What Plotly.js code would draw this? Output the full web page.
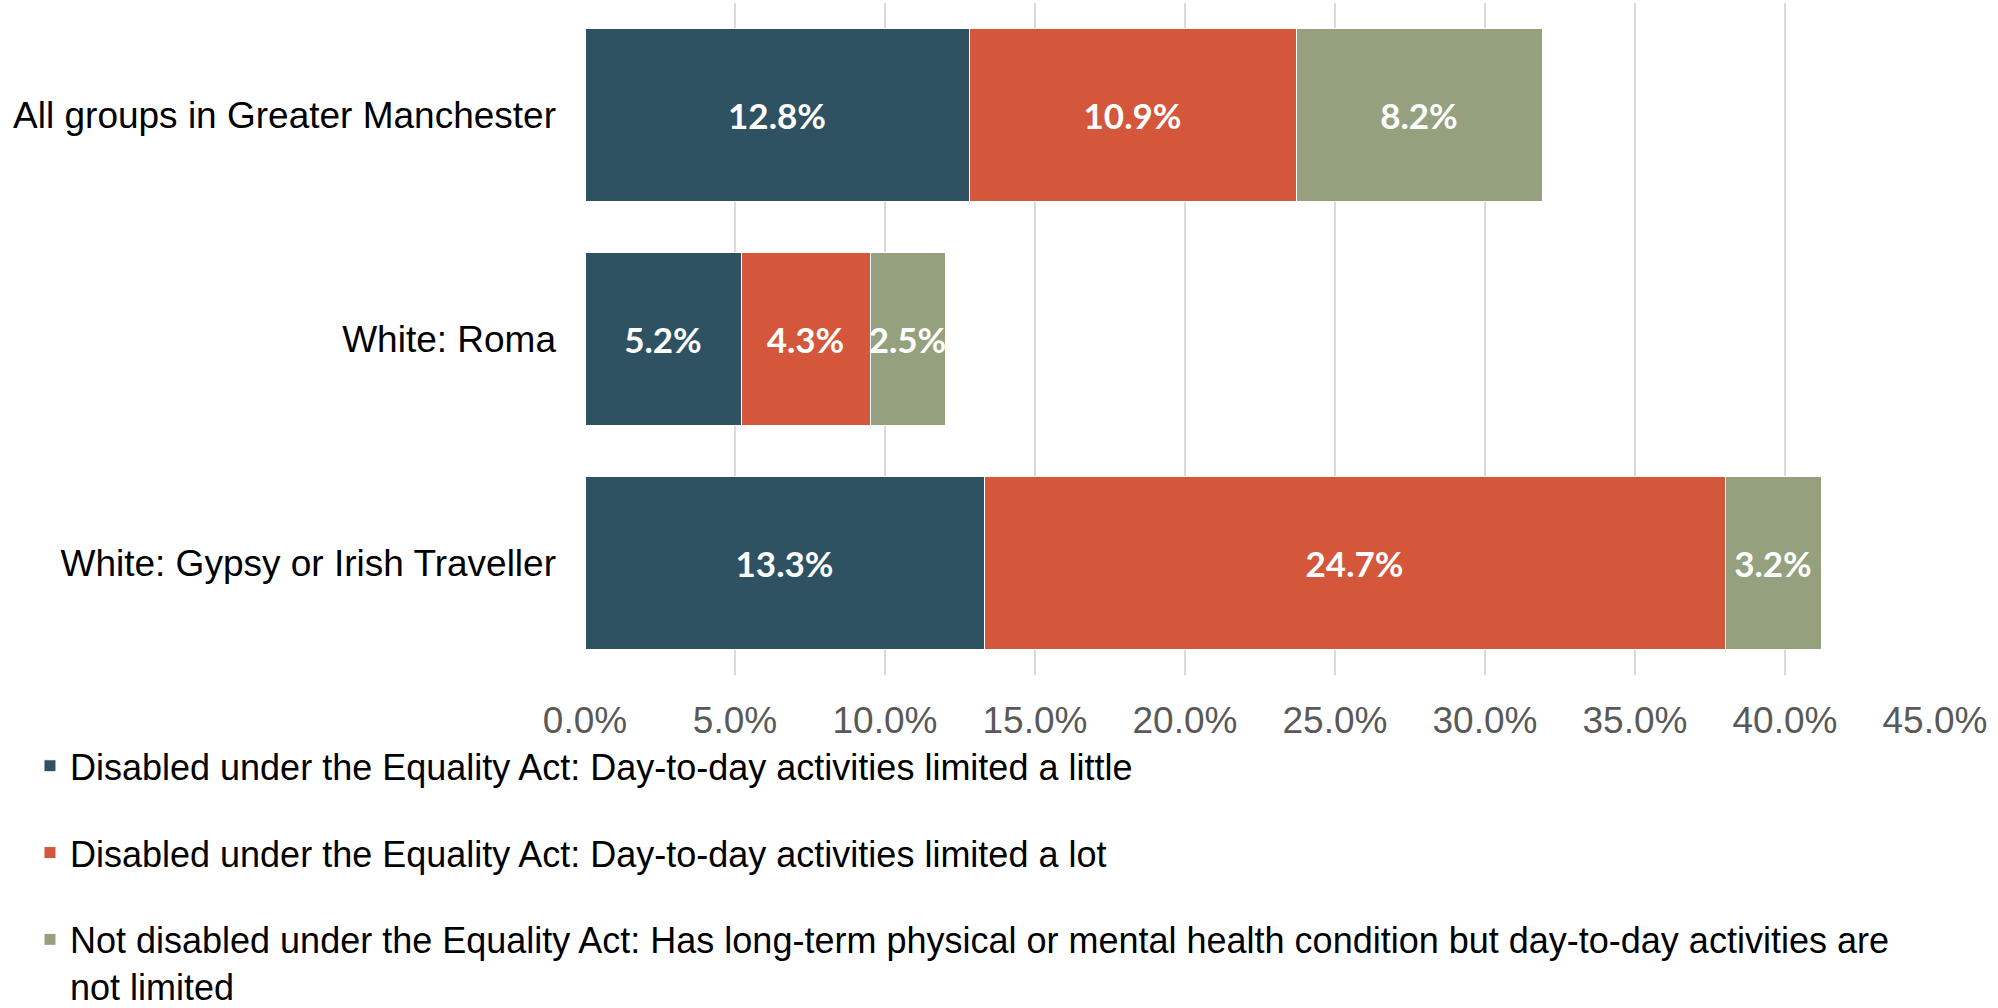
<!DOCTYPE html>
<html>
<head>
<meta charset="utf-8">
<script src="https://cdn.plot.ly/plotly-3.0.1.min.js"></script>
<style>html,body{margin:0;padding:0;background:#fff;}#chart{width:1998px;height:1008px;}</style>
</head>
<body>
<div id="chart"></div>
<script>
const categories = ["All groups in Greater Manchester", "White: Roma", "White: Gypsy or Irish Traveller"];
const seriesNames = [
  "Disabled under the Equality Act: Day-to-day activities limited a little",
  "Disabled under the Equality Act: Day-to-day activities limited a lot",
  "Not disabled under the Equality Act: Has long-term physical or mental health condition but day-to-day activities are<br>not limited"
];
const limitedLittle = [12.8, 5.2, 13.3];
const limitedLot = [10.9, 4.3, 24.7];
const notLimited = [8.2, 2.5, 3.2];
const colors = ["#2F5263", "#D5573B", "#95A17E"];

const seriesValues = [limitedLittle, limitedLot, notLimited];
const traces = seriesValues.map((vals, i) => ({
  type: "bar",
  orientation: "h",
  name: seriesNames[i],
  legendgroup: "g" + i,
  y: categories,
  x: vals,
  marker: {color: colors[i], line: {color: "#ffffff", width: 1}},
  text: vals.map(v => v.toFixed(1) + "%"),
  textposition: "inside",
  insidetextanchor: "middle",
  textangle: 0,
  constraintext: "none",
  textfont: {family: "Lato, 'Open Sans', sans-serif", size: 35, color: "#ffffff", weight: "bold"},
  hoverinfo: "none"
}));

const layout = {
  width: 1998,
  height: 1008,
  paper_bgcolor: "#ffffff",
  plot_bgcolor: "#ffffff",
  barmode: "stack",
  bargap: 0.225,
  margin: {l: 585, r: 63, t: 3, b: 333, autoexpand: false},
  font: {family: "'Liberation Sans', Arial, sans-serif", size: 37, color: "#000000"},
  xaxis: {
    range: [0, 45],
    dtick: 5,
    tick0: 0,
    tickformat: ".1f",
    ticksuffix: "%",
    tickangle: 0,
    showgrid: true,
    gridcolor: "#D9D9D9",
    gridwidth: 1.5,
    zeroline: false,
    showline: false,
    ticks: "",
    ticklabelstandoff: 20,
    tickfont: {size: 37, color: "#595959"},
    fixedrange: true
  },
  yaxis: {
    autorange: "reversed",
    showgrid: false,
    zeroline: false,
    showline: false,
    ticks: "",
    ticklabelstandoff: 28,
    tickfont: {size: 37, color: "#000000"},
    fixedrange: true
  },
  showlegend: true,
  legend: {
    orientation: "v",
    traceorder: "grouped",
    tracegroupgap: 37,
    xref: "container",
    yref: "container",
    x: 0.015,
    xanchor: "left",
    y: 0.27,
    yanchor: "top",
    valign: "top",
    font: {size: 36, color: "#000000"},
    bgcolor: "rgba(0,0,0,0)"
  }
};

Plotly.newPlot("chart", traces, layout, {displayModeBar: false, staticPlot: true});
</script>
</body>
</html>
